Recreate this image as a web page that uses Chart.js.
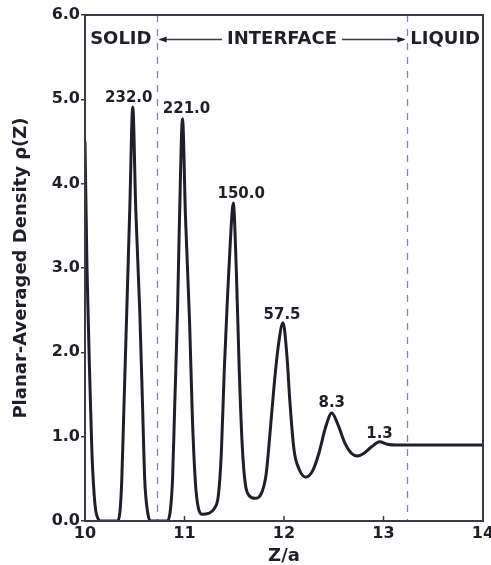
<!DOCTYPE html>
<html>
<head>
<meta charset="utf-8">
<script src="https://cdn.jsdelivr.net/npm/chart.js@4.4.1/dist/chart.umd.min.js"></script>
<style>
  html, body { margin: 0; padding: 0; background: #fff; }
  #wrap { width: 491px; height: 565px; }
</style>
</head>
<body>
<div id="wrap"><canvas id="graphique-densite" width="491" height="565"></canvas></div>
<script>
// courbe de densite (Z/a, rho)
const zValues = [
  10.00, 10.02, 10.05, 10.07, 10.10, 10.13, 10.16, 10.32,
  10.35, 10.37, 10.39, 10.42, 10.45, 10.48, 10.51, 10.55, 10.58, 10.60, 10.63, 10.66,
  10.83, 10.86, 10.88, 10.90, 10.93, 10.95, 10.98, 11.01, 11.05, 11.08, 11.11, 11.14, 11.18, 11.24, 11.30,
  11.34, 11.37, 11.40, 11.43, 11.46, 11.49, 11.52, 11.55, 11.58, 11.61, 11.65, 11.71, 11.77,
  11.82, 11.86, 11.90, 11.94, 11.99, 12.03, 12.06, 12.10, 12.15, 12.22, 12.29,
  12.35, 12.42, 12.48, 12.54, 12.61, 12.68, 12.74, 12.80,
  12.88, 12.96, 13.04, 13.12, 14.00
];
const rhoValues = [
  4.50, 3.00, 1.60, 0.80, 0.20, 0.03, 0.00, 0.00,
  0.10, 0.50, 1.30, 2.50, 3.70, 4.91, 3.70, 2.50, 1.30, 0.50, 0.10, 0.00,
  0.00, 0.15, 0.50, 1.30, 2.50, 3.60, 4.77, 3.60, 2.40, 1.20, 0.45, 0.15, 0.08, 0.09, 0.15,
  0.30, 0.80, 1.80, 2.60, 3.30, 3.77, 3.00, 1.80, 0.90, 0.45, 0.30, 0.27, 0.32,
  0.55, 1.05, 1.60, 2.05, 2.35, 1.95, 1.40, 0.85, 0.62, 0.52, 0.60,
  0.80, 1.12, 1.28, 1.15, 0.93, 0.80, 0.77, 0.80,
  0.88, 0.94, 0.91, 0.90, 0.90
];

// etiquettes des pics (position du texte)
const peakLabels = ["232.0", "221.0", "150.0", "57.5", "8.3", "1.3"];
const labelZ = [10.44, 11.02, 11.57, 11.98, 12.48, 12.96];
const labelRho = [4.97, 4.84, 3.83, 2.40, 1.35, 0.99];

// zones et limites (lignes pointillees)
const zoneLimits = [10.72, 13.24];
const zoneLabels = ["SOLID", "INTERFACE", "LIQUID"];

const xTicks = [10, 11, 12, 13, 14];
const yTicks = [0, 1, 2, 3, 4, 5, 6];

const encre = "#1f1f2a";
const police = "'DejaVu Sans', sans-serif";

// plugin pour le cadre, les pointilles et les textes
const decorPlugin = {
  id: "decor",
  beforeDatasetsDraw(chart) {
    const { ctx, chartArea: a, scales: { x } } = chart;
    ctx.save();
    ctx.strokeStyle = "#7d88b0";
    ctx.lineWidth = 1.3;
    ctx.setLineDash([7, 7]);
    for (const z of zoneLimits) {
      const px = Math.round(x.getPixelForValue(z)) + 0.5;
      ctx.beginPath();
      ctx.moveTo(px, a.top);
      ctx.lineTo(px, a.bottom);
      ctx.stroke();
    }
    ctx.restore();
  },
  afterDatasetsDraw(chart) {
    const { ctx, chartArea: a, scales: { x, y } } = chart;
    ctx.save();
    // cadre
    ctx.strokeStyle = "#3a3a48";
    ctx.lineWidth = 2;
    ctx.strokeRect(a.left, a.top, a.right - a.left, a.bottom - a.top);
    // petites graduations vers l'interieur sur l'axe x
    ctx.lineWidth = 1.5;
    for (const t of xTicks) {
      const px = x.getPixelForValue(t);
      ctx.beginPath();
      ctx.moveTo(px, a.bottom);
      ctx.lineTo(px, a.bottom - 5);
      ctx.stroke();
    }
    // textes des zones
    ctx.fillStyle = encre;
    ctx.font = "bold 18px " + police;
    ctx.textAlign = "center";
    ctx.textBaseline = "middle";
    const yz = y.getPixelForValue(5.71);
    const l1 = x.getPixelForValue(zoneLimits[0]);
    const l2 = x.getPixelForValue(zoneLimits[1]);
    ctx.fillText(zoneLabels[0], (a.left + l1) / 2, yz);
    const mid = (l1 + l2) / 2;
    ctx.fillText(zoneLabels[1], mid, yz);
    ctx.fillText(zoneLabels[2], (l2 + a.right) / 2, yz);
    // fleches
    const demi = ctx.measureText(zoneLabels[1]).width / 2 + 5;
    ctx.lineWidth = 1.5;
    ctx.beginPath();
    ctx.moveTo(mid - demi, yz);
    ctx.lineTo(l1 + 3, yz);
    ctx.moveTo(mid + demi, yz);
    ctx.lineTo(l2 - 3, yz);
    ctx.stroke();
    ctx.beginPath();
    ctx.moveTo(l1 + 2, yz);
    ctx.lineTo(l1 + 10, yz - 3);
    ctx.lineTo(l1 + 10, yz + 3);
    ctx.closePath();
    ctx.moveTo(l2 - 2, yz);
    ctx.lineTo(l2 - 10, yz - 3);
    ctx.lineTo(l2 - 10, yz + 3);
    ctx.closePath();
    ctx.fill();
    // valeurs des pics
    ctx.font = "bold 15px " + police;
    ctx.textBaseline = "alphabetic";
    for (let i = 0; i < peakLabels.length; i++) {
      ctx.fillText(peakLabels[i], x.getPixelForValue(labelZ[i]), y.getPixelForValue(labelRho[i]));
    }
    ctx.restore();
  }
};

const data = {
  datasets: [{
    data: zValues.map((z, i) => ({ x: z, y: rhoValues[i] })),
    borderColor: encre,
    borderWidth: 3,
    pointRadius: 0,
    fill: false,
    cubicInterpolationMode: "monotone"
  }]
};

const config = {
  type: "line",
  data: data,
  options: {
    responsive: false,
    animation: false,
    layout: { padding: { top: 15, right: 8, left: 0, bottom: 0 } },
    plugins: { legend: { display: false }, tooltip: { enabled: false } },
    scales: {
      x: {
        type: "linear",
        min: 10, max: 14,
        afterBuildTicks: (s) => { s.ticks = xTicks.map(v => ({ value: v })); },
        afterFit: (s) => { s.height = 44; s.paddingLeft = 0; s.paddingRight = 0; },
        grid: { display: false },
        border: { display: false },
        ticks: { color: encre, font: { family: police, weight: "bold", size: 16 }, padding: -5, maxRotation: 0 },
        title: { display: true, text: "Z/a", color: encre, font: { family: police, weight: "bold", size: 18, lineHeight: 1 }, padding: { top: 0, bottom: 0 } }
      },
      y: {
        min: 0, max: 6,
        afterBuildTicks: (s) => { s.ticks = yTicks.map(v => ({ value: v })); },
        afterFit: (s) => { s.width = 85; },
        grid: { drawOnChartArea: false, tickLength: 4, color: "#3a3a48", lineWidth: 1.5 },
        border: { display: false },
        ticks: { color: encre, font: { family: police, weight: "bold", size: 16 }, padding: 1, callback: (v) => v.toFixed(1) },
        title: { display: true, text: "Planar-Averaged Density \u03C1(Z)", color: encre, font: { family: police, weight: "bold", size: 18, lineHeight: 1.2 }, padding: { top: 11, bottom: 0 } }
      }
    }
  },
  plugins: [decorPlugin]
};

new Chart(document.querySelector("#graphique-densite"), config);
</script>
</body>
</html>
